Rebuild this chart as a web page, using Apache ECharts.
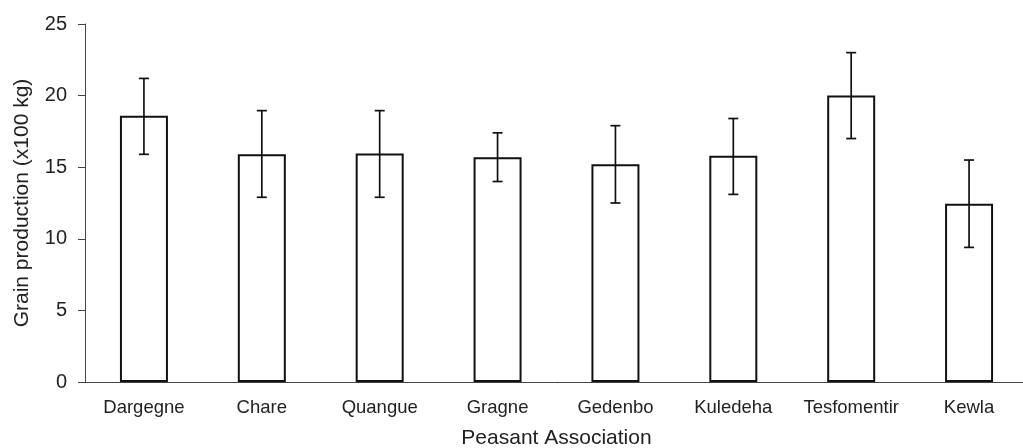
<!DOCTYPE html>
<html>
<head>
<meta charset="utf-8">
<script src="https://cdn.jsdelivr.net/npm/echarts@6/dist/echarts.min.js"></script>
<style>
  html, body { margin: 0; padding: 0; background: #fff; }
  #chart { width: 1023px; height: 448px; }
</style>
</head>
<body>
<div id="chart"></div>
<script>
// data
var categories = ["Dargegne", "Chare", "Quangue", "Gragne", "Gedenbo", "Kuledeha", "Tesfomentir", "Kewla"];
var means = [18.6, 15.9, 15.95, 15.7, 15.2, 15.8, 20.0, 12.45];
var errLow = [15.9, 12.9, 12.9, 14.0, 12.5, 13.1, 17.0, 9.4];
var errHigh = [21.2, 18.95, 18.95, 17.4, 17.9, 18.4, 23.0, 15.5];
var yTicks = [0, 5, 10, 15, 20, 25];

var errData = categories.map(function (c, i) {
  return [i, errLow[i], errHigh[i]];
});

var font = "'Liberation Sans', Arial, sans-serif";
var chart = echarts.init(document.getElementById("chart"));

chart.setOption({
  animation: false,
  backgroundColor: "#fff",
  grid: {
    left: 85,
    top: 24,
    width: 943,
    height: 358,
    outerBoundsMode: "none",
  },
  xAxis: {
    type: "category",
    data: categories,
    name: "Peasant Association",
    nameLocation: "middle",
    nameGap: 46,
    nameTextStyle: { fontFamily: font, fontSize: 21, color: "#222" },
    axisLine: { lineStyle: { color: "#444", width: 1 } },
    axisTick: { length: 5, lineStyle: { color: "#444" } },
    axisLabel: { fontFamily: font, fontSize: 18.5, color: "#222", margin: 16, interval: 0 },
  },
  yAxis: {
    type: "value",
    min: yTicks[0],
    max: yTicks[yTicks.length - 1],
    interval: 5,
    name: "Grain production (x100 kg)",
    nameLocation: "middle",
    nameGap: 52,
    nameTextStyle: { fontFamily: font, fontSize: 21, color: "#222" },
    axisLine: { show: true, lineStyle: { color: "#444", width: 1 } },
    axisTick: { show: true, length: 7, lineStyle: { color: "#444" } },
    axisLabel: { fontFamily: font, fontSize: 20, color: "#222", margin: 18 },
    splitLine: { show: false },
  },
  series: [
    {
      name: "mean",
      type: "bar",
      data: means,
      barWidth: 48,
      itemStyle: {
        color: "#fff",
        borderColor: "#111",
        borderWidth: 2,
      },
    },
    {
      name: "error",
      type: "custom",
      data: errData,
      encode: { x: 0, y: [1, 2] },
      z: 10,
      renderItem: function (params, api) {
        var x = api.value(0);
        var lo = api.coord([x, api.value(1)]);
        var hi = api.coord([x, api.value(2)]);
        var half = 5;
        var style = { stroke: "#111", lineWidth: 1.7 };
        return {
          type: "group",
          children: [
            { type: "line", shape: { x1: hi[0], y1: hi[1], x2: lo[0], y2: lo[1] }, style: style },
            { type: "line", shape: { x1: hi[0] - half, y1: hi[1], x2: hi[0] + half, y2: hi[1] }, style: style },
            { type: "line", shape: { x1: lo[0] - half, y1: lo[1], x2: lo[0] + half, y2: lo[1] }, style: style },
          ],
        };
      },
    },
  ],
});
</script>
</body>
</html>
